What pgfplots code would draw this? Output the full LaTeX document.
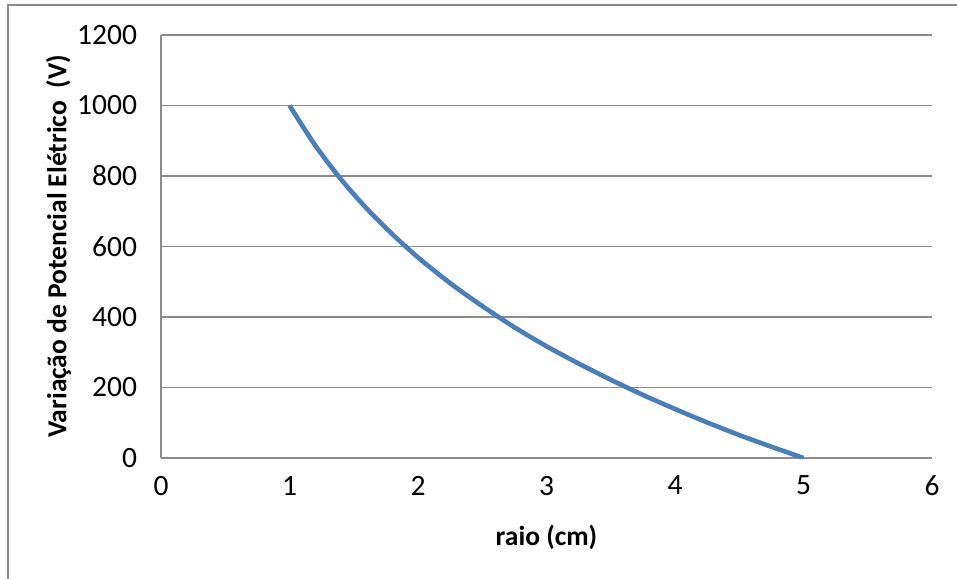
\documentclass[border=0pt]{standalone}
\usepackage{pgfplots}
\pgfplotsset{compat=1.18}
\usepackage{fontspec}
\setmainfont{Carlito}
\definecolor{lineblue}{HTML}{4A7EBB}
\definecolor{gridgray}{HTML}{8C8C8C}
\begin{document}
\fontsize{29.5bp}{35bp}\selectfont
\begin{tikzpicture}
\useasboundingbox (-161bp,-121bp) rectangle (796bp,458bp);
\draw[gridgray, line width=1.3bp] (-153bp,-125bp) -- (-153bp,453bp) -- (800bp,453bp);
\begin{axis}[
  at={(0,0)}, anchor=south west,
  scale only axis, width=771bp, height=423bp,
  xmin=0, xmax=6, ymin=0, ymax=1200,
  xtick={0,1,2,3,4,5,6}, ytick={0,200,400,600,800,1000,1200},
  axis x line*=bottom, axis y line*=left,
  axis line style={gridgray, line width=1.3bp, -},
  tick style={draw=none},
  ymajorgrids, grid style={gridgray, line width=1.3bp},
  ticklabel style={font=\fontsize{29.5bp}{35bp}\selectfont},
  /pgf/number format/assume math mode=true,
  /pgf/number format/1000 sep={},
  yticklabel style={xshift=-14bp},
  xticklabel style={yshift=-8bp},
  xlabel={\textbf{raio (cm)}},
  ylabel={\textbf{Variação de Potencial Elétrico\ \ (V)}},
  label style={font=\fontsize{27.5bp}{33bp}\selectfont},
  xlabel style={at={(axis description cs:0.5,0)}, anchor=north, yshift=-57bp},
  ylabel style={at={(axis description cs:0,0.5)}, anchor=south, yshift=80bp},
]
\addplot[lineblue, line width=4.6bp, smooth] coordinates {
(1.0,1000) (1.2,887) (1.4,791) (1.6,708) (1.8,635) (2.0,569)
(2.25,496) (2.5,431) (2.75,371) (3.0,317) (3.25,268) (3.5,222)
(3.75,179) (4.0,139) (4.25,101) (4.5,65) (4.75,32) (5.0,0)
};
\end{axis}
\end{tikzpicture}
\end{document}
